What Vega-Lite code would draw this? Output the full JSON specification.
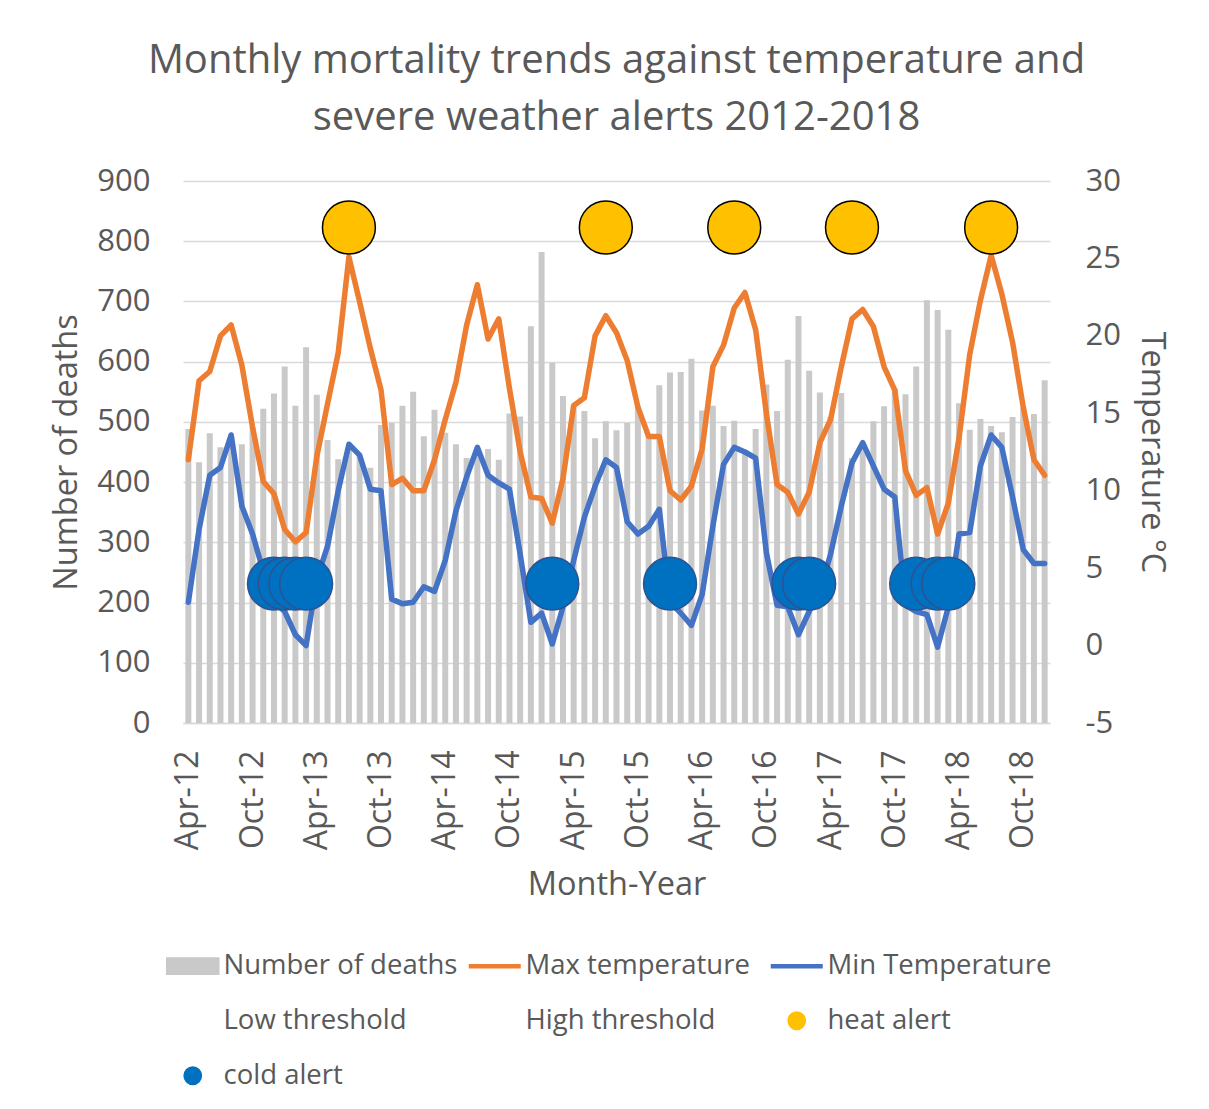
{
  "$schema": "https://vega.github.io/schema/vega-lite/v6.json",
  "width": 867,
  "height": 542,
  "padding": {"left": 50, "top": 41, "right": 10, "bottom": 10},
  "background": "white",
  "config": {"view": {"stroke": null}, "font": "Open Sans", "line": {"strokeWidth": 5.5}},
  "title": {
    "text": ["Monthly mortality trends against temperature and", "severe weather alerts 2012-2018"],
    "font": "Open Sans", "fontSize": 40, "fontWeight": "normal", "color": "#595959",
    "lineHeight": 57, "offset": 27, "anchor": "middle"
  },
  "data": {"values": [
    {"m":"Apr-12","deaths":488,"tmax":12.0,"tmin":2.8},
    {"m":"May-12","deaths":433,"tmax":17.1,"tmin":7.5},
    {"m":"Jun-12","deaths":481,"tmax":17.7,"tmin":11.0},
    {"m":"Jul-12","deaths":458,"tmax":20.0,"tmin":11.5},
    {"m":"Aug-12","deaths":475,"tmax":20.7,"tmin":13.6},
    {"m":"Sep-12","deaths":463,"tmax":18.1,"tmin":9.0},
    {"m":"Oct-12","deaths":491,"tmax":14.1,"tmin":7.2},
    {"m":"Nov-12","deaths":522,"tmax":10.6,"tmin":4.8},
    {"m":"Dec-12","deaths":547,"tmax":9.8,"tmin":2.8,"cold":4},
    {"m":"Jan-13","deaths":592,"tmax":7.5,"tmin":2.2,"cold":4},
    {"m":"Feb-13","deaths":527,"tmax":6.7,"tmin":0.7,"cold":4},
    {"m":"Mar-13","deaths":624,"tmax":7.3,"tmin":0.0,"cold":4},
    {"m":"Apr-13","deaths":545,"tmax":12.2,"tmin":4.3},
    {"m":"May-13","deaths":470,"tmax":15.6,"tmin":6.4},
    {"m":"Jun-13","deaths":438,"tmax":18.9,"tmin":10.0},
    {"m":"Jul-13","deaths":462,"tmax":25.1,"tmin":13.0,"heat":27},
    {"m":"Aug-13","deaths":444,"tmax":22.2,"tmin":12.3},
    {"m":"Sep-13","deaths":424,"tmax":19.2,"tmin":10.1},
    {"m":"Oct-13","deaths":495,"tmax":16.5,"tmin":10.0},
    {"m":"Nov-13","deaths":498,"tmax":10.4,"tmin":3.0},
    {"m":"Dec-13","deaths":527,"tmax":10.8,"tmin":2.7},
    {"m":"Jan-14","deaths":550,"tmax":10.0,"tmin":2.8},
    {"m":"Feb-14","deaths":476,"tmax":10.0,"tmin":3.8},
    {"m":"Mar-14","deaths":520,"tmax":12.0,"tmin":3.5},
    {"m":"Apr-14","deaths":482,"tmax":14.6,"tmin":5.5},
    {"m":"May-14","deaths":463,"tmax":17.0,"tmin":8.7},
    {"m":"Jun-14","deaths":440,"tmax":20.7,"tmin":10.9},
    {"m":"Jul-14","deaths":457,"tmax":23.3,"tmin":12.8},
    {"m":"Aug-14","deaths":455,"tmax":19.8,"tmin":11.0},
    {"m":"Sep-14","deaths":437,"tmax":21.1,"tmin":10.5},
    {"m":"Oct-14","deaths":514,"tmax":16.6,"tmin":10.1},
    {"m":"Nov-14","deaths":509,"tmax":12.5,"tmin":5.9},
    {"m":"Dec-14","deaths":659,"tmax":9.6,"tmin":1.5},
    {"m":"Jan-15","deaths":782,"tmax":9.5,"tmin":2.1},
    {"m":"Feb-15","deaths":598,"tmax":7.9,"tmin":0.1,"cold":4},
    {"m":"Mar-15","deaths":543,"tmax":10.8,"tmin":2.5},
    {"m":"Apr-15","deaths":526,"tmax":15.5,"tmin":5.5},
    {"m":"May-15","deaths":518,"tmax":16.0,"tmin":8.3},
    {"m":"Jun-15","deaths":473,"tmax":20.0,"tmin":10.3},
    {"m":"Jul-15","deaths":501,"tmax":21.3,"tmin":12.0,"heat":27},
    {"m":"Aug-15","deaths":486,"tmax":20.2,"tmin":11.5},
    {"m":"Sep-15","deaths":498,"tmax":18.4,"tmin":8.0},
    {"m":"Oct-15","deaths":527,"tmax":15.4,"tmin":7.2},
    {"m":"Nov-15","deaths":477,"tmax":13.5,"tmin":7.7},
    {"m":"Dec-15","deaths":561,"tmax":13.5,"tmin":8.8},
    {"m":"Jan-16","deaths":582,"tmax":10.0,"tmin":2.8,"cold":4},
    {"m":"Feb-16","deaths":583,"tmax":9.4,"tmin":2.1},
    {"m":"Mar-16","deaths":605,"tmax":10.3,"tmin":1.3},
    {"m":"Apr-16","deaths":519,"tmax":12.7,"tmin":3.3},
    {"m":"May-16","deaths":527,"tmax":18.0,"tmin":7.7},
    {"m":"Jun-16","deaths":493,"tmax":19.4,"tmin":11.7},
    {"m":"Jul-16","deaths":502,"tmax":21.8,"tmin":12.8,"heat":27},
    {"m":"Aug-16","deaths":450,"tmax":22.8,"tmin":12.5},
    {"m":"Sep-16","deaths":488,"tmax":20.4,"tmin":12.1},
    {"m":"Oct-16","deaths":562,"tmax":15.0,"tmin":6.0},
    {"m":"Nov-16","deaths":518,"tmax":10.4,"tmin":2.6},
    {"m":"Dec-16","deaths":603,"tmax":9.9,"tmin":2.5},
    {"m":"Jan-17","deaths":676,"tmax":8.5,"tmin":0.7,"cold":4},
    {"m":"Feb-17","deaths":585,"tmax":9.9,"tmin":2.2,"cold":4},
    {"m":"Mar-17","deaths":549,"tmax":13.1,"tmin":3.5},
    {"m":"Apr-17","deaths":508,"tmax":14.6,"tmin":5.9},
    {"m":"May-17","deaths":548,"tmax":18.0,"tmin":9.0},
    {"m":"Jun-17","deaths":440,"tmax":21.1,"tmin":11.8,"heat":27},
    {"m":"Jul-17","deaths":466,"tmax":21.7,"tmin":13.1},
    {"m":"Aug-17","deaths":501,"tmax":20.6,"tmin":11.6},
    {"m":"Sep-17","deaths":526,"tmax":18.0,"tmin":10.1},
    {"m":"Oct-17","deaths":555,"tmax":16.5,"tmin":9.6},
    {"m":"Nov-17","deaths":546,"tmax":11.3,"tmin":2.6},
    {"m":"Dec-17","deaths":592,"tmax":9.7,"tmin":2.2,"cold":4},
    {"m":"Jan-18","deaths":702,"tmax":10.2,"tmin":2.0},
    {"m":"Feb-18","deaths":686,"tmax":7.2,"tmin":-0.1,"cold":4},
    {"m":"Mar-18","deaths":653,"tmax":9.2,"tmin":2.5,"cold":4},
    {"m":"Apr-18","deaths":531,"tmax":13.4,"tmin":7.2},
    {"m":"May-18","deaths":487,"tmax":18.8,"tmin":7.3},
    {"m":"Jun-18","deaths":505,"tmax":22.3,"tmin":11.6},
    {"m":"Jul-18","deaths":493,"tmax":25.2,"tmin":13.6,"heat":27},
    {"m":"Aug-18","deaths":483,"tmax":22.7,"tmin":12.8},
    {"m":"Sep-18","deaths":508,"tmax":19.6,"tmin":9.6},
    {"m":"Oct-18","deaths":524,"tmax":15.4,"tmin":6.2},
    {"m":"Nov-18","deaths":513,"tmax":12.0,"tmin":5.3},
    {"m":"Dec-18","deaths":569,"tmax":11.0,"tmin":5.3}
  ]},
  "encoding": {
    "x": {
      "field": "m", "type": "ordinal", "sort": null, "title": "Month-Year",
      "scale": {
        "paddingInner": 0.44, "paddingOuter": 0.22,
        "domain": ["Apr-12","May-12","Jun-12","Jul-12","Aug-12","Sep-12","Oct-12","Nov-12","Dec-12",
          "Jan-13","Feb-13","Mar-13","Apr-13","May-13","Jun-13","Jul-13","Aug-13","Sep-13","Oct-13","Nov-13","Dec-13",
          "Jan-14","Feb-14","Mar-14","Apr-14","May-14","Jun-14","Jul-14","Aug-14","Sep-14","Oct-14","Nov-14","Dec-14",
          "Jan-15","Feb-15","Mar-15","Apr-15","May-15","Jun-15","Jul-15","Aug-15","Sep-15","Oct-15","Nov-15","Dec-15",
          "Jan-16","Feb-16","Mar-16","Apr-16","May-16","Jun-16","Jul-16","Aug-16","Sep-16","Oct-16","Nov-16","Dec-16",
          "Jan-17","Feb-17","Mar-17","Apr-17","May-17","Jun-17","Jul-17","Aug-17","Sep-17","Oct-17","Nov-17","Dec-17",
          "Jan-18","Feb-18","Mar-18","Apr-18","May-18","Jun-18","Jul-18","Aug-18","Sep-18","Oct-18","Nov-18","Dec-18"]
      },
      "axis": {
        "values": ["Apr-12","Oct-12","Apr-13","Oct-13","Apr-14","Oct-14","Apr-15","Oct-15","Apr-16","Oct-16","Apr-17","Oct-17","Apr-18","Oct-18"],
        "labelAngle": -90, "labelFontSize": 32, "labelColor": "#595959", "labelPadding": 27,
        "ticks": false, "domain": true, "domainColor": "#D9D9D9", "domainWidth": 1.3, "grid": false,
        "titleFontSize": 32.5, "titleColor": "#595959", "titleFontWeight": "normal", "titlePadding": 19
      }
    }
  },
  "resolve": {"scale": {"y": "independent"}},
  "layer": [
    {
      "transform": [{"fold": ["deaths"], "as": ["series", "val"]}],
      "mark": {"type": "bar"},
      "encoding": {
        "y": {
          "field": "val", "type": "quantitative", "title": "Number of deaths",
          "scale": {"domain": [0, 900], "nice": false, "zero": true},
          "axis": {
            "orient": "left", "values": [0,100,200,300,400,500,600,700,800,900],
            "labelFontSize": 31, "labelColor": "#595959", "labelPadding": 33,
            "ticks": false, "domain": false, "grid": true, "gridColor": "#D9D9D9", "gridWidth": 1.3,
            "titleFontSize": 32.5, "titleColor": "#595959", "titleFontWeight": "normal", "titlePadding": 13
          }
        },
        "color": {
          "field": "series", "type": "nominal",
          "scale": {
            "domain": ["deaths","tmax","tmin","low","high","heat","cold"],
            "range": ["#C9C9C9","#ED7D31","#4472C4","rgba(0,0,0,0)","rgba(0,0,0,0)","#FFC000","#0070C0"]
          },
          "legend": {
            "orient": "none", "legendX": -4, "legendY": 771,
            "direction": "horizontal", "columns": 3, "title": null, "gridAlign": "all",
            "labelFont": "Open Sans", "labelFontSize": 27.5, "labelColor": "#595959",
            "symbolSize": 2704, "labelOffset": 17, "columnPadding": 1, "rowPadding": 26,
            "labelLimit": 400,
            "labelExpr": "datum.label=='deaths'?'Number of deaths':datum.label=='tmax'?'Max temperature':datum.label=='tmin'?'Min Temperature':datum.label=='low'?'Low threshold':datum.label=='high'?'High threshold':datum.label=='heat'?'heat alert':'cold alert'",
            "encode": {
              "symbols": {
                "update": {
                  "shape": {"signal": "datum.value=='deaths'?'M-1,-0.31L1,-0.31L1,0.31L-1,0.31Z':(datum.value=='tmax'||datum.value=='tmin')?'M-1,0L1,0':'M-0.33,0A0.33,0.33 0 1,0 0.33,0A0.33,0.33 0 1,0 -0.33,0Z'"},
                  "fill": {"signal": "datum.value=='deaths'?'#C9C9C9':datum.value=='heat'?'#FFC000':datum.value=='cold'?'#0070C0':'transparent'"},
                  "stroke": {"signal": "datum.value=='tmax'?'#ED7D31':datum.value=='tmin'?'#4472C4':datum.value=='heat'?'#000000':datum.value=='cold'?'#2F528F':'transparent'"},
                  "strokeWidth": {"signal": "(datum.value=='tmax'||datum.value=='tmin')?4.5:1.6"},
                  "opacity": {"value": 1},
                  "fillOpacity": {"value": 1},
                  "strokeOpacity": {"value": 1}
                }
              }
            }
          }
        }
      }
    },
    {
      "encoding": {
        "y": {
          "field": "val", "type": "quantitative", "title": "Temperature °C",
          "scale": {"domain": [-5, 30], "nice": false, "zero": false},
          "axis": {
            "orient": "right", "values": [-5,0,5,10,15,20,25,30],
            "labelExpr": "'' + datum.value",
            "labelFontSize": 31, "labelColor": "#595959", "labelPadding": 35,
            "ticks": false, "domain": false, "grid": false,
            "titleFontSize": 32.5, "titleColor": "#595959", "titleFontWeight": "normal", "titlePadding": 14
          }
        },
        "color": {"field": "series", "type": "nominal", "legend": null}
      },
      "layer": [
        {
          "transform": [{"fold": ["tmax", "tmin"], "as": ["series", "val"]}],
          "mark": {"type": "line", "strokeWidth": 5.5, "strokeJoin": "round", "strokeCap": "round"},
          "encoding": {"strokeWidth": {"value": 5.5}}
        },
        {
          "transform": [{"fold": ["heat"], "as": ["series", "val"]}, {"filter": {"field": "val", "valid": true}}],
          "mark": {"type": "point", "filled": true, "size": 2800, "stroke": "#000000", "strokeWidth": 1.5, "opacity": 1}
        },
        {
          "transform": [{"fold": ["cold"], "as": ["series", "val"]}, {"filter": {"field": "val", "valid": true}}],
          "mark": {"type": "point", "filled": true, "size": 2800, "stroke": "#2F528F", "strokeWidth": 1.5, "opacity": 1}
        }
      ]
    }
  ]
}
